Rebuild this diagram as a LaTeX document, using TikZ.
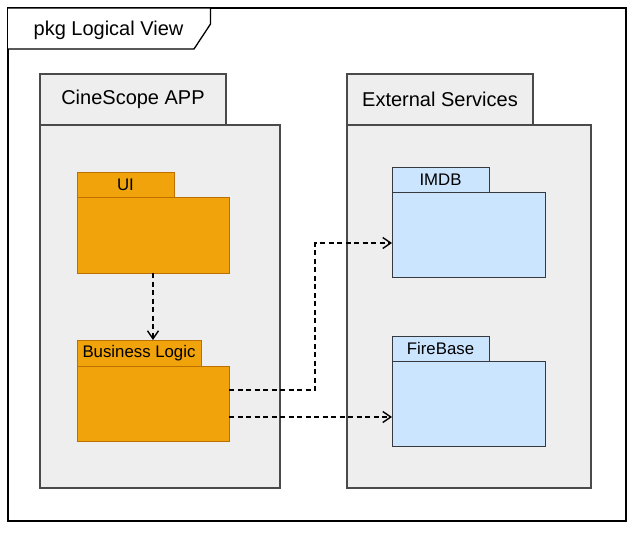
\documentclass[tikz,border=0pt]{standalone}
\usepackage{fontspec}
\setmainfont{Liberation Sans}
\usetikzlibrary{positioning,arrows.meta}

\definecolor{groupfill}{HTML}{EEEEEE}
\definecolor{groupline}{HTML}{4A4A4A}
\definecolor{appfill}{HTML}{F0A30A}
\definecolor{appline}{HTML}{BD7000}
\definecolor{extfill}{HTML}{CCE5FF}
\definecolor{extline}{HTML}{36393D}

\begin{document}
\begin{tikzpicture}[x=1pt,y=-1pt,
	groupbox/.style={rectangle,draw=groupline,fill=groupfill,line width=1.2pt,inner sep=0pt,outer sep=0pt,anchor=north west,font=\fontsize{20}{22}\selectfont},
	appbox/.style={rectangle,draw=appline,fill=appfill,line width=1pt,inner sep=0pt,outer sep=0pt,anchor=north west,font=\fontsize{16.8}{19}\selectfont},
	extbox/.style={rectangle,draw=extline,fill=extfill,line width=1pt,inner sep=0pt,outer sep=0pt,anchor=north west,font=\fontsize{16.8}{19}\selectfont},
	dep/.style={line width=1.4pt,dash pattern=on 5pt off 3.5pt,-{Straight Barb[length=8pt,width=11pt]}}]
		\useasboundingbox (0,0) rectangle (637,533);

		% frame
		\draw[line width=1.3pt] (8,8) rectangle (626,521);
		\draw[line width=1.3pt,fill=white] (8,8) -- (210.5,8) -- (210.5,24) -- (194,49) -- (8,49);
		\node[font=\fontsize{20}{22}\selectfont]	(title)	at (108.5,30)	{pkg Logical View};

		% CineScope APP
		\node[groupbox,minimum width=240pt,minimum height=363pt]	(app)		at (40,125)	{};
		\node[groupbox,minimum width=186pt,minimum height=51pt,anchor=south west]	(apptab)	at (app.north west)	{CineScope APP};

		\node[appbox,minimum width=152pt,minimum height=76pt]	(ui)		at (77,197)	{};
		\node[appbox,minimum width=97pt,minimum height=25pt,anchor=south west]	(uitab)		at (ui.north west)	{UI};

		\node[appbox,minimum width=152pt,minimum height=75pt]	(bl)		at (77,366)	{};
		\node[appbox,minimum width=124pt,minimum height=26pt,anchor=south west]	(bltab)		at (bl.north west)	{Business Logic};

		% External Services
		\node[groupbox,minimum width=244pt,minimum height=363pt]	(ext)		at (347,125)	{};
		\node[groupbox,minimum width=186pt,minimum height=51pt,anchor=south west]	(exttab)	at (ext.north west)	{External Services};

		\node[extbox,minimum width=153pt,minimum height=85pt]	(imdb)		at (392,192)	{};
		\node[extbox,minimum width=97pt,minimum height=25pt,anchor=south west]	(imdbtab)	at (imdb.north west)	{IMDB};

		\node[extbox,minimum width=153pt,minimum height=85pt]	(fb)		at (392,361)	{};
		\node[extbox,minimum width=97pt,minimum height=25pt,anchor=south west]	(fbtab)		at (fb.north west)	{FireBase};

		% dependencies
		\draw[dep] (ui.south) -- (ui.south |- bltab.north);
		\draw[dep] ([yshift=13.5pt]bl.east) -| (315,243) -- ([yshift=-8.5pt]imdb.west);
		\draw[dep] ([yshift=-13.5pt]bl.east) -- ([yshift=-13.5pt]fb.west);
	\end{tikzpicture}
\end{document}
